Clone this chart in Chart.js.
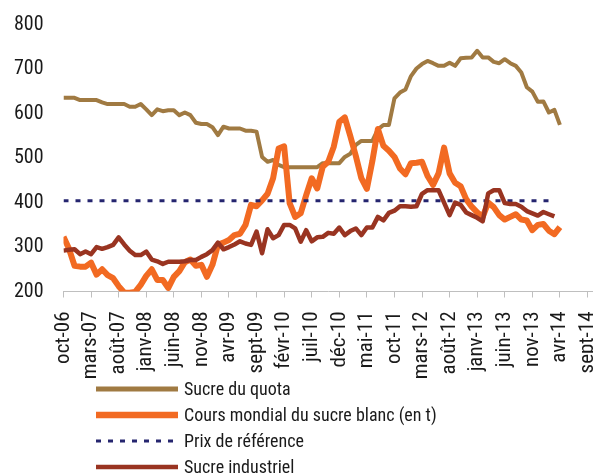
<!DOCTYPE html>
<html>
<head>
<meta charset="utf-8">
<script src="https://cdn.jsdelivr.net/npm/chart.js@4/dist/chart.umd.min.js"></script>
<style>
  html, body { margin: 0; padding: 0; background: #ffffff; }
  #wrap { width: 593px; height: 475px; position: relative; }
</style>
</head>
<body>
<div id="wrap"><canvas id="c" width="593" height="475"></canvas></div>
<script>
// Month names (French) and the category axis: oct-06 .. oct-14
const monthNames = ['janv','févr','mars','avr','mai','juin','juil','août','sept','oct','nov','déc'];
const categories = [];
for (let y = 2006; y <= 2014; y++) {
  for (let mo = 0; mo < 12; mo++) {
    if (y === 2006 && mo < 9) continue;
    if (y === 2014 && mo > 9) continue;
    categories.push(monthNames[mo] + '-' + String(y).slice(2));
  }
}

// Series values (€/t), monthly from oct-06
const sucreQuota = [636,636,636,631,631,631,631,626,622,622,
  622,622,616,616,622,610,597,610,606,608,
  608,597,603,597,580,577,577,570,552,571,
  567,567,567,562,562,560,503,492,496,485,
  480,480,480,480,480,480,480,489,489,489,
  489,503,510,530,539,539,539,565,575,575,
  635,648,655,685,702,712,719,714,708,708,
  715,708,725,726,727,742,727,727,717,714,
  723,714,708,693,660,650,627,628,603,609,575];

const coursMondial = [323,296,258,256,256,265,238,250,237,230,
  212,198,197,199,215,235,250,226,226,208,
  233,246,266,272,258,260,233,260,305,310,
  316,327,330,350,395,392,405,420,455,522,
  527,399,368,376,417,455,432,481,492,526,
  582,592,550,505,455,431,494,566,528,517,
  503,477,464,489,490,492,460,440,466,524,
  466,445,437,408,391,378,368,400,390,372,
  362,368,374,362,360,338,350,352,337,329,345];

const prixReference = 404.4;
const prixStart = 'oct-06';
const prixEnd = 'févr-14';

const sucreIndustriel = [292,294,295,284,290,284,300,296,300,305,
  322,306,292,282,282,290,272,268,262,267,
  267,267,268,271,271,278,284,293,310,295,
  300,306,313,308,305,335,286,340,320,327,
  350,350,342,312,338,313,322,323,332,330,
  344,327,336,342,327,344,344,368,360,377,
  382,392,392,391,392,420,428,428,428,400,
  372,400,395,378,372,366,358,421,428,428,
  399,397,397,391,381,376,371,379,374,369];

const yTicks = [200,300,400,500,600,700,800];

const FONT = '"Roboto Condensed", "DejaVu Sans Condensed", sans-serif';
const TXT = '#1a1a1a';

const legendPlugin = {
  id: 'vlegend',
  afterDraw(chart) {
    const ctx = chart.ctx;
    ctx.save();
    chart.data.datasets.forEach((ds, i) => {
      const y = 389 + i * 26;
      ctx.beginPath();
      ctx.strokeStyle = ds.borderColor;
      ctx.lineWidth = ds.legendWidth;
      ctx.lineCap = 'butt';
      ctx.setLineDash(ds.borderDash || []);
      ctx.moveTo(96, y);
      ctx.lineTo(178, y);
      ctx.stroke();
      ctx.setLineDash([]);
      ctx.fillStyle = TXT;
      ctx.font = '18px ' + FONT;
      ctx.textBaseline = 'middle';
      ctx.textAlign = 'left';
      ctx.fillText(ds.label, 184, y + 1);
    });
    ctx.restore();
  }
};

new Chart(document.getElementById('c'), {
  type: 'line',
  data: {
    labels: categories,
    datasets: [
      { label: 'Sucre du quota', data: sucreQuota, borderColor: '#A07A42', borderWidth: 4, legendWidth: 5, order: 4 },
      { label: 'Cours mondial du sucre blanc (en t)', data: coursMondial, borderColor: '#F26A22', borderWidth: 6, legendWidth: 6.5, order: 3 },
      { label: 'Prix de référence', data: [{x: prixStart, y: prixReference}, {x: prixEnd, y: prixReference}], borderColor: '#25256F', borderWidth: 3, legendWidth: 3, borderDash: [5, 7], borderCapStyle: 'butt', order: 2 },
      { label: 'Sucre industriel', data: sucreIndustriel, borderColor: '#993421', borderWidth: 4.5, legendWidth: 4.5, order: 1 }
    ]
  },
  options: {
    responsive: false,
    animation: false,
    devicePixelRatio: 1,
    layout: { padding: { top: 25, left: 0, right: 0, bottom: 0 } },
    elements: {
      point: { radius: 0, hoverRadius: 0 },
      line: { tension: 0, fill: false, borderJoinStyle: 'round', borderCapStyle: 'butt' }
    },
    datasets: { line: { clip: 0 } },
    plugins: { legend: { display: false }, tooltip: { enabled: false } },
    scales: {
      x: {
        type: 'category',
        offset: false,
        grid: { display: true, drawOnChartArea: false, drawTicks: true, tickLength: 6, color: '#BFBFBF', lineWidth: 1 },
        border: { display: true, color: '#BFBFBF', width: 1 },
        ticks: { autoSkip: false, minRotation: 90, maxRotation: 90, padding: 14, color: TXT, font: { family: FONT, size: 21 } },
        afterBuildTicks(scale) { scale.ticks = scale.ticks.filter((t, i) => i % 5 === 0 && i <= 95); },
        afterFit(scale) { scale.height = 183.5; scale.paddingLeft = 0; scale.paddingRight = 0; }
      },
      y: {
        min: 200, max: 800,
        afterBuildTicks(scale) { scale.ticks = yTicks.map(v => ({ value: v })); },
        grid: { display: false, drawTicks: false },
        border: { display: false },
        ticks: { padding: 20, color: TXT, font: { family: FONT, size: 20 } },
        afterFit(scale) { scale.width = 63.5; scale.paddingTop = 0; scale.paddingBottom = 0; }
      }
    }
  },
  plugins: [legendPlugin]
});
</script>
</body>
</html>
